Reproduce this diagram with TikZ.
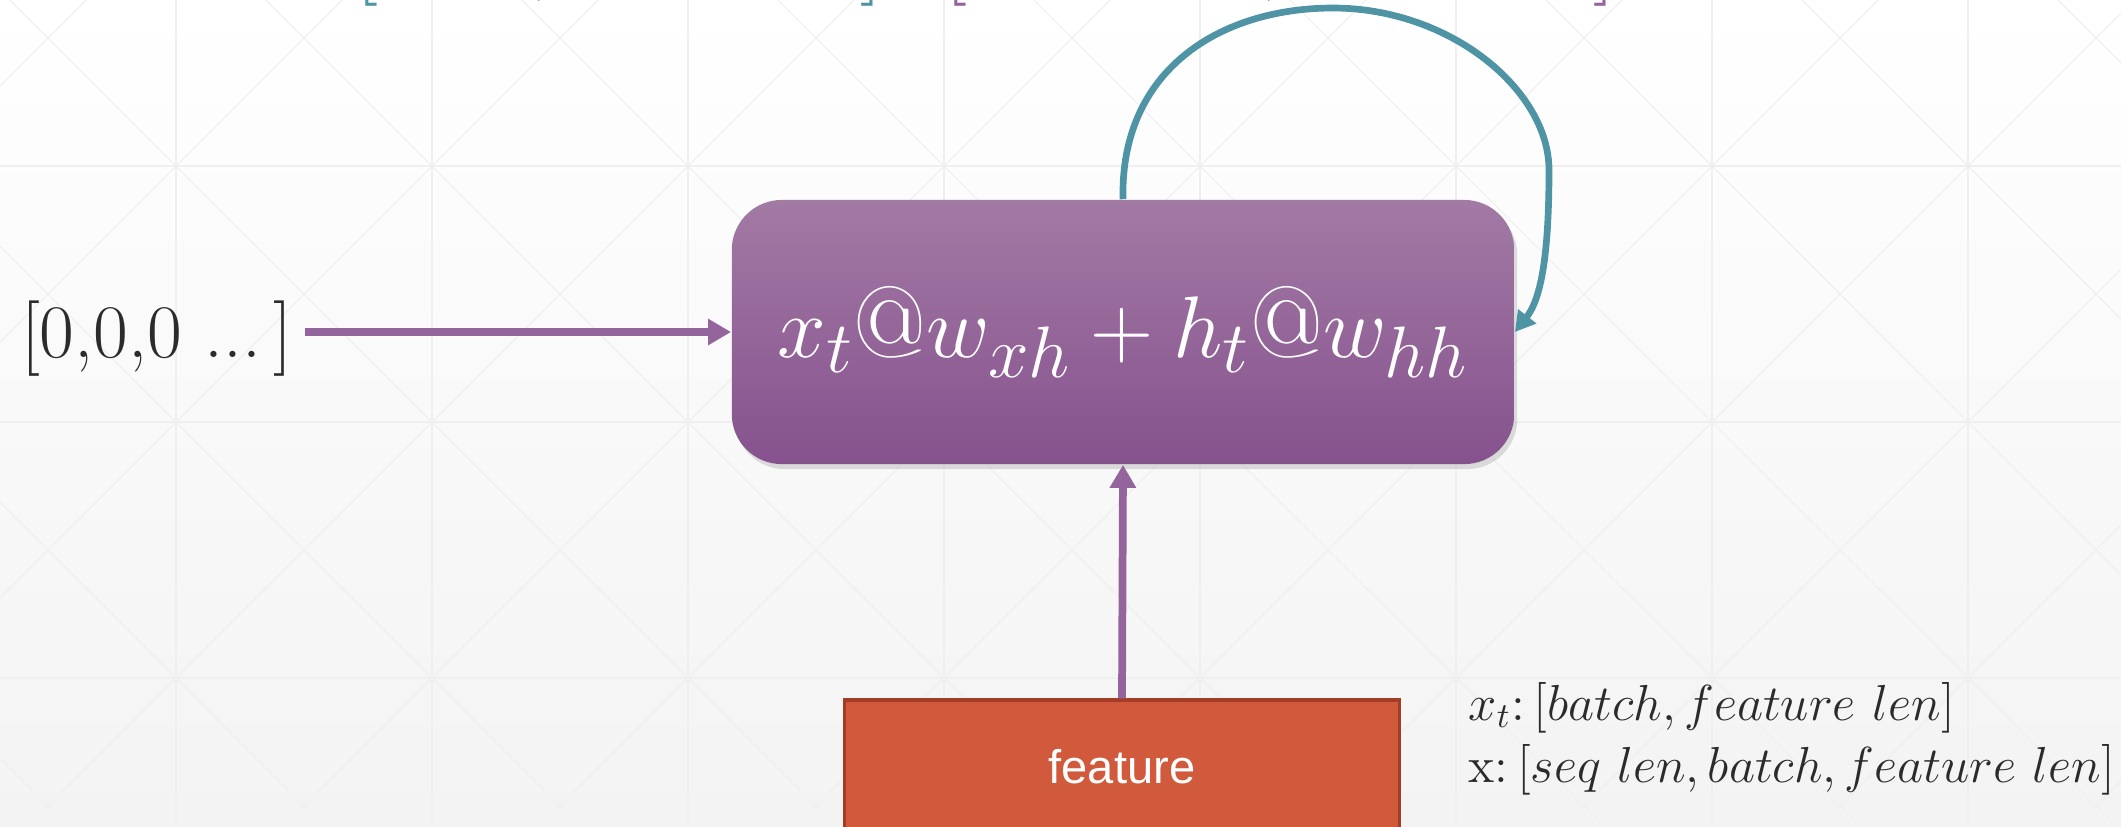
\documentclass[tikz,border=0pt]{standalone}
\usepackage{amsmath}
\usepackage{amssymb}
\usepackage{fontspec}
\newfontfamily\arialfont{Liberation Sans}
\usetikzlibrary{arrows.meta,shadows}
\definecolor{bgbot}{HTML}{F3F3F3}
\definecolor{gridcol}{HTML}{EFEFEF}
\definecolor{boxtop}{HTML}{A27AA4}
\definecolor{boxbot}{HTML}{86528E}
\definecolor{flowpurple}{HTML}{94649C}
\definecolor{backteal}{HTML}{4E94A4}
\definecolor{featfill}{HTML}{D15A3D}
\definecolor{featline}{HTML}{A33D28}
\definecolor{inktext}{HTML}{2B2B2B}

\begin{document}
\begin{tikzpicture}[x=0.01cm,y=-0.01cm,
  main node/.style={rounded corners=0.5cm, top color=boxtop, bottom color=boxbot,
    minimum width=7.82cm, minimum height=2.64cm, text=white,
    font=\fontsize{28.8}{34}\selectfont,
    drop shadow={shadow xshift=0.03cm, shadow yshift=-0.05cm, opacity=0.25}},
  feat node/.style={rectangle, fill=featfill, draw=featline, line width=0.9pt,
    minimum width=5.55cm, minimum height=1.34cm, text=white,
    font=\arialfont\fontsize{13.4}{16}\selectfont},
  flow/.style={line width=2.2pt, draw=flowpurple, -{Triangle[length=0.23cm,width=0.25cm]}},
  back edge/.style={line width=1.9pt, draw=backteal, -{Triangle[length=0.2cm,width=0.22cm]}},
  note/.style={anchor=base west, text=inktext, inner sep=0pt, font=\fontsize{14.4}{18}\selectfont},
  top frag/.style={anchor=base, inner sep=0pt, font=\fontsize{26}{30}\selectfont},
  grid line/.style={draw=gridcol, line width=0.3pt}]

  \fill[top color=white, bottom color=bgbot] (0,0) rectangle (2121,826);
  \useasboundingbox (0,0) rectangle (2121,826);
  \begin{scope}
    \clip (0,0) rectangle (2121,826);
    \foreach \i in {-1,...,8}
      \draw[grid line] (176+256*\i,0) -- (176+256*\i,826);
    \foreach \j in {-1,...,3}
      \draw[grid line] (0,166+256*\j) -- (2121,166+256*\j);
    \foreach \k in {-5,...,9}
      \draw[grid line] (10+256*\k-100,-100) -- (10+256*\k+1000,1000);
    \foreach \k in {-2,...,11}
      \draw[grid line] (342+256*\k+100,-100) -- (342+256*\k-1000,1000);
    % bottom of the line above the picture
    \node[top frag, text=backteal] (hl) at (367,-16) {$[$};
    \node[top frag, text=backteal] (hc) at (541,-16) {$,$};
    \node[top frag, text=backteal] (hr) at (871,-16) {$]$};
    \node[top frag, text=flowpurple] (wl) at (956,-16) {$[$};
    \node[top frag, text=flowpurple] (wc) at (1271,-16) {$,$};
    \node[top frag, text=flowpurple] (wr) at (1604,-16) {$]$};
  \end{scope}

  \node[main node] (cell) at (1123,332) {$x_t@w_{xh}+h_t@w_{hh}$};
  \node[text=inktext, font=\fontsize{21.5}{26}\selectfont] (init) at (157,339) {[0,0,0 ...\,]};
  \node[feat node] (feat) at (1122,767) {feature};

  \node[note] (xtshape) at (1468,720) {$x_t$:\,$[batch, feature\ len]$};
  \node[note] (xshape) at (1468,782) {x:\,$[seq\ len, batch, feature\ len]$};

  \draw[flow] (init.east |- cell.west) -- (cell.west);
  \draw[flow] (feat.north) -- (cell.south);
  \draw[back edge] (cell.north) .. controls (1120,70) and (1220,8) .. (1333,8)
    .. controls (1450,8) and (1549,90) .. (1549,170)
    .. controls (1549,260) and (1540,300) .. (cell.east);
\end{tikzpicture}
\end{document}
